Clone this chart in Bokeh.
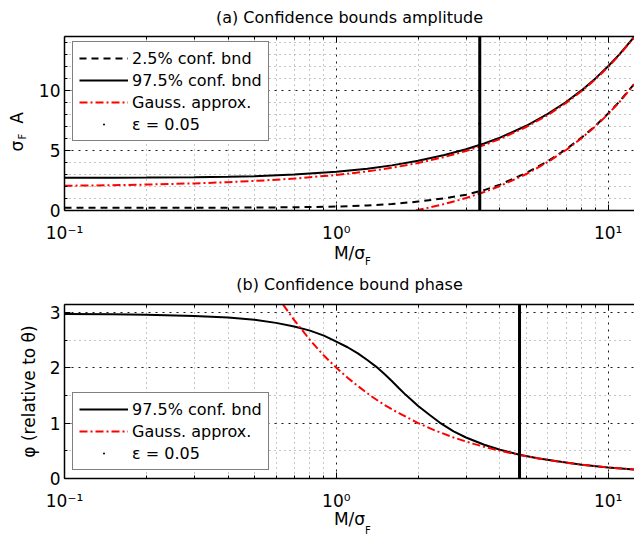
from bokeh.plotting import figure
from bokeh.models import (Range1d, LogAxis, Span, Legend, LegendItem, Title,
                          CustomJSTickFormatter, FixedTicker)
from bokeh.layouts import column
from bokeh.embed import file_html
from bokeh.resources import INLINE

FONT = "DejaVu Sans"

# ---------------- data ----------------
# (a) amplitude bounds
x_amp = [0.1, 0.15, 0.2, 0.3, 0.4, 0.5, 0.7, 1.0, 1.3, 1.6, 2.0, 2.5, 3.0, 3.5,
         4.0, 5.0, 6.0, 7.0, 8.0, 9.0, 10.0, 11.0, 12.5]
amp_lo_025 = [0.226, 0.227, 0.229, 0.233, 0.239, 0.246, 0.27, 0.33, 0.42, 0.54, 0.74,
              1.02, 1.32, 1.70, 2.16, 3.13, 4.11, 5.10, 6.09, 7.08, 8.08, 9.08, 10.57]
amp_hi_975 = [2.72, 2.73, 2.74, 2.77, 2.81, 2.86, 2.99, 3.22, 3.48, 3.76, 4.14,
              4.62, 5.10, 5.58, 6.07, 7.06, 8.05, 9.04, 10.03, 11.03, 12.02, 13.01, 14.5]
amp_gauss_hi = [2.06, 2.11, 2.16, 2.26, 2.36, 2.46, 2.66, 2.96, 3.26, 3.56, 3.96,
                4.46, 4.96, 5.46, 5.96, 6.96, 7.96, 8.96, 9.96, 10.96, 11.96, 12.96, 14.46]
x_amp_gauss_lo = [1.96, 2.0, 2.5, 3.0, 3.5, 4.0, 5.0, 6.0, 7.0, 8.0, 9.0, 10.0, 11.0, 12.5]
amp_gauss_lo = [0.0, 0.04, 0.54, 1.04, 1.54, 2.04, 3.04, 4.04, 5.04, 6.04, 7.04, 8.04,
                9.04, 10.54]
eps_amp = 3.37          # epsilon = 0.05 line, panel (a)

# (b) phase bound
x_ph = [0.1, 0.15, 0.2, 0.3, 0.4, 0.5, 0.6, 0.7, 0.8, 0.9, 1.0, 1.1, 1.2, 1.3, 1.4,
        1.5, 1.6, 1.7, 1.8, 2.0, 2.2, 2.4, 2.7, 3.0, 3.5, 4.0, 4.72, 5.5, 6.5, 8.0,
        10.0, 12.5]
ph_975 = [2.97, 2.965, 2.955, 2.935, 2.905, 2.865, 2.81, 2.745, 2.67, 2.58, 2.47, 2.37,
          2.26, 2.14, 2.02, 1.89, 1.76, 1.63, 1.51, 1.31, 1.15, 1.01, 0.85, 0.74, 0.61,
          0.52, 0.43, 0.365, 0.31, 0.25, 0.2, 0.16]
x_ph_gauss = [0.637, 0.7, 0.8, 0.9, 1.0, 1.1, 1.2, 1.35, 1.5, 1.7, 2.0, 2.3, 2.7, 3.2,
              3.8, 4.72, 5.5, 6.5, 8.0, 10.0, 12.5]
ph_gauss = [3.14, 2.86, 2.5, 2.22, 2.0, 1.82, 1.67, 1.48, 1.33, 1.18, 1.0, 0.87, 0.74,
            0.625, 0.526, 0.424, 0.364, 0.308, 0.25, 0.2, 0.16]
eps_ph = 4.72           # epsilon = 0.05 line, panel (b)

x_lim = (0.1, 12.5)
amp_ylim = (0, 14.5)
ph_ylim = (0, 3.1416)

x_major = [0.1, 1, 10]
x_minor = [0.2, 0.3, 0.4, 0.5, 0.6, 0.7, 0.8, 0.9, 2, 3, 4, 5, 6, 7, 8, 9]
amp_major = [0, 5, 10]
amp_minor = [1, 2, 3, 4, 6, 7, 8, 9, 11, 12, 13, 14]
ph_major = [0, 1, 2, 3]
ph_minor = [0.5, 1.5, 2.5]

legend_labels_a = ["2.5% conf. bnd", "97.5% conf. bnd", "Gauss. approx.", "ε = 0.05"]
legend_labels_b = ["97.5% conf. bnd", "Gauss. approx.", "ε = 0.05"]

SUP_JS = """
const e = Math.round(Math.log10(tick));
const s = {"-":"\u207b","0":"\u2070","1":"\u00b9","2":"\u00b2","3":"\u00b3"};
return "10" + String(e).split("").map(c => s[c]).join("");
"""


def safe_standoff(t, v):
    try:
        t.standoff = v
    except Exception:
        t.standoff = 0


def make_fig(title, ylim, height, btop, bbottom, ymaj, ymin, title_st,
             xlab_standoff, sub_st):
    xt = FixedTicker(ticks=x_major, minor_ticks=x_minor)
    yt = FixedTicker(ticks=ymaj, minor_ticks=ymin)
    p = figure(width=634, height=height, x_axis_type="log",
               x_range=Range1d(*x_lim), y_range=Range1d(*ylim),
               output_backend="svg", toolbar_location=None,
               min_border_left=64, min_border_right=0, min_border_top=btop,
               min_border_bottom=bbottom, outline_line_color=None,
               background_fill_color="white", border_fill_color="white")
    p.title.text = title
    p.title.align = "center"
    p.title.vertical_align = "top"
    p.title.text_font = FONT
    p.title.text_font_size = "16px"
    p.title.text_font_style = "normal"
    p.title.text_color = "black"
    p.title.standoff = title_st

    p.xaxis.ticker = xt
    p.xgrid.ticker = xt
    p.yaxis.ticker = yt
    p.ygrid.ticker = yt
    p.xaxis.formatter = CustomJSTickFormatter(code=SUP_JS)

    for ax in [p.xaxis[0], p.yaxis[0]]:
        ax.axis_line_width = 1.5
        ax.axis_line_color = "black"
        ax.major_tick_in = 6
        ax.major_tick_out = 0
        ax.minor_tick_in = 3
        ax.minor_tick_out = 0
        ax.major_tick_line_color = "black"
        ax.minor_tick_line_color = "black"
        ax.major_label_text_font = FONT
        ax.major_label_text_font_size = "17px"
        ax.major_label_text_color = "black"
    p.xaxis.major_label_standoff = 12
    p.yaxis.major_label_standoff = 4

    # x label "M/σ" with a subscript F
    p.xaxis.axis_label = "M/σ"
    p.xaxis.axis_label_text_font = FONT
    p.xaxis.axis_label_text_font_size = "17px"
    p.xaxis.axis_label_text_font_style = "normal"
    p.xaxis.axis_label_text_color = "black"
    p.xaxis.axis_label_standoff = xlab_standoff
    sub = Title(text="F", align="left", offset=300.5, vertical_align="top",
                text_font=FONT, text_font_size="10px", text_font_style="normal",
                text_color="black")
    safe_standoff(sub, sub_st)
    p.add_layout(sub, "below")

    top = LogAxis(ticker=xt, formatter=CustomJSTickFormatter(code="return '';"),
                  axis_line_width=1.5, axis_line_color="black",
                  major_tick_in=6, major_tick_out=0, minor_tick_in=3, minor_tick_out=0,
                  major_tick_line_color="black", minor_tick_line_color="black",
                  major_label_standoff=0, major_label_text_font_size="1px")
    p.add_layout(top, "above")

    for g in [p.xgrid, p.ygrid]:
        g.grid_line_color = "black"
        g.grid_line_dash = "2 5"
        g.grid_line_width = 1
        g.grid_line_alpha = 0.9
        g.minor_grid_line_color = "#8c8c8c"
        g.minor_grid_line_dash = "1 4"
        g.minor_grid_line_width = 1
    return p


def style_legend(lg):
    lg.border_line_color = "black"
    lg.border_line_width = 1.5
    lg.background_fill_color = "white"
    lg.background_fill_alpha = 1
    lg.label_text_font = FONT
    lg.label_text_font_size = "16px"
    lg.label_text_color = "black"
    lg.glyph_width = 49
    lg.glyph_height = 20
    lg.label_height = 20
    lg.label_standoff = 4
    lg.spacing = 2
    lg.padding = 6
    lg.margin = 0


# ---------------- panel (a) ----------------
pa = make_fig("(a) Confidence bounds amplitude", amp_ylim, 266, 36, 56,
              amp_major, amp_minor, 13.5, -3, -18.5)
r_lo = pa.line(x_amp, amp_lo_025, line_color="black", line_width=2, line_dash="7 5")
r_hi = pa.line(x_amp, amp_hi_975, line_color="black", line_width=2)
r_gh = pa.line(x_amp, amp_gauss_hi, line_color="red", line_width=2, line_dash="8 3 2 3")
r_gl = pa.line(x_amp_gauss_lo, amp_gauss_lo, line_color="red", line_width=2,
               line_dash="8 3 2 3")
pa.add_layout(Span(location=eps_amp, dimension="height", line_color="black",
                   line_width=3))
r_ea = pa.scatter([eps_amp], [amp_ylim[1] / 2], marker="dot", size=12, color="black")
lga = Legend(items=[LegendItem(label=legend_labels_a[0], renderers=[r_lo]),
                    LegendItem(label=legend_labels_a[1], renderers=[r_hi]),
                    LegendItem(label=legend_labels_a[2], renderers=[r_gh]),
                    LegendItem(label=legend_labels_a[3], renderers=[r_ea])],
             location=(8, 69))
style_legend(lga)
pa.add_layout(lga)

# y label "σ_F A" : subscript F (inner) and "σ A" (outer)
yF = Title(text="F", align="left", offset=71, vertical_align="bottom",
           text_font=FONT, text_font_size="10px", text_font_style="normal",
           text_color="black")
safe_standoff(yF, 14.6)
pa.add_layout(yF, "left")
ySA = Title(text="σ\u2003A", align="left", offset=59, vertical_align="bottom",
            text_font=FONT, text_font_size="17px", text_font_style="normal",
            text_color="black")
safe_standoff(ySA, -38)
pa.add_layout(ySA, "left")

# ---------------- panel (b) ----------------
pb = make_fig("(b) Confidence bound phase", ph_ylim, 268, 38, 56, ph_major, ph_minor,
              15.5, -5, -14)
r_ph = pb.line(x_ph, ph_975, line_color="black", line_width=2)
r_pg = pb.line(x_ph_gauss, ph_gauss, line_color="red", line_width=2, line_dash="8 3 2 3")
pb.add_layout(Span(location=eps_ph, dimension="height", line_color="black",
                   line_width=3))
r_eb = pb.scatter([eps_ph], [ph_ylim[1] / 2], marker="dot", size=12, color="black")
lgb = Legend(items=[LegendItem(label=legend_labels_b[0], renderers=[r_ph]),
                    LegendItem(label=legend_labels_b[1], renderers=[r_pg]),
                    LegendItem(label=legend_labels_b[2], renderers=[r_eb])],
             location=(8, 8))
style_legend(lgb)
pb.add_layout(lgb)
pb.yaxis.axis_label = "φ (relative to θ)"
pb.yaxis.axis_label_text_font = FONT
pb.yaxis.axis_label_text_font_size = "17px"
pb.yaxis.axis_label_text_font_style = "normal"
pb.yaxis.axis_label_text_color = "black"
pb.yaxis.axis_label_standoff = 8
pb.add_layout(Title(text=""), "left")   # spacer so the axis keeps its natural width

layout = column(pa, pb, spacing=0)
open("out.html", "w").write(file_html(layout, INLINE))
